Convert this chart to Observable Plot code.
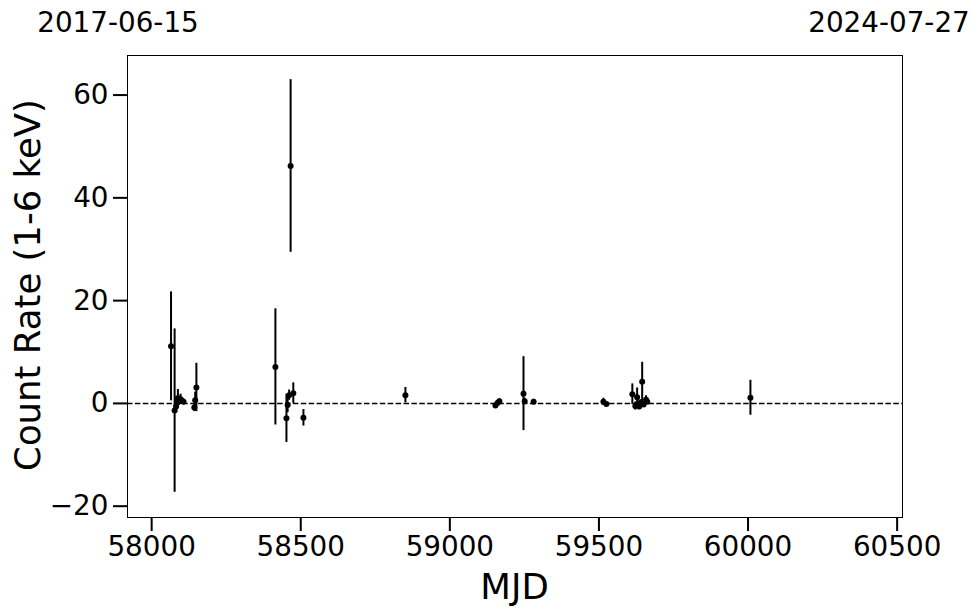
<!DOCTYPE html>
<html><head><meta charset="utf-8">
<script src="https://cdn.jsdelivr.net/npm/d3@7"></script>
<script src="https://cdn.jsdelivr.net/npm/@observablehq/plot@0.6"></script>
<style>html,body{margin:0;padding:0;background:#fff;}</style>
</head><body><div id="chart"></div>
<script>
const mjd  = [58065,58077,58082,58088,58092,58097,58102,58107,58143,58146,58150,
              58415,58452,58456,58461,58466,58475,58509,58851,
              59153,59160,59166,59247,59251,59281,59515,59525,
              59612,59622,59628,59635,59640,59645,59650,59658,59662,60008];
const rate = [11.1,-1.4,-0.6,1.0,0.4,0.8,0.5,0.3,-0.8,0.6,3.1,
              7.1,-2.9,-0.3,1.6,46.2,2.0,-2.8,1.6,
              -0.4,0.1,0.4,1.9,0.4,0.3,0.3,-0.1,
              1.8,-0.5,1.2,-0.6,0.2,4.2,-0.2,0.7,0.3,1.1];
const err  = [10.6,15.9,1.2,1.7,0.8,1.0,0.6,0.4,0.8,1.6,4.7,
              11.3,4.7,1.5,1.0,16.8,2.0,1.6,1.5,
              0.5,0.5,0.5,7.2,0.6,0.5,0.7,0.3,
              2.0,0.8,1.8,0.6,0.5,3.8,0.6,0.8,0.5,3.4];
const xTicks = [58000,58500,59000,59500,60000,60500];
const yTicks = [-20,0,20,40,60];
const xDomain = [57919,60518];
const yDomain = [-22.2,67.7];
const xLabel = "MJD";
const yLabel = "Count Rate (1-6 keV)";
const dateLeft = "2017-06-15";
const dateRight = "2024-07-27";

const data = mjd.map((m,i)=>({mjd:m, rate:rate[i], err:err[i]}));

const chart = Plot.plot({
  width: 980, height: 613,
  marginLeft: 127, marginRight: 78, marginTop: 55, marginBottom: 96,
  style: {fontFamily: "DejaVu Sans", fontSize: "27.8px", color: "black", background: "white"},
  x: {domain: xDomain},
  y: {domain: yDomain},
  marks: [
    Plot.ruleY([0], {stroke: "black", strokeWidth: 1.5, strokeDasharray: "5.5,2.4"}),
    Plot.ruleX(data, {x: "mjd", y1: d => d.rate - d.err, y2: d => d.rate + d.err, stroke: "black", strokeWidth: 2}),
    Plot.dot(data, {x: "mjd", y: "rate", r: 3, fill: "black", stroke: null}),
    Plot.frame({stroke: "black", strokeWidth: 1}),
    Plot.axisX({ticks: xTicks, tickSize: 14, tickPadding: 5, strokeWidth: 2, label: null, tickFormat: d => String(d)}),
    Plot.axisY({ticks: yTicks, tickSize: 14, tickPadding: 5, strokeWidth: 2, label: null})
  ]
});
document.getElementById("chart").appendChild(chart);

const svg = d3.select(chart);
const g = svg.append("g").attr("font-family", "DejaVu Sans").attr("fill", "black");
g.append("text").attr("x", 514.5).attr("y", 599).attr("text-anchor", "middle")
  .attr("font-size", "35.5px").text(xLabel);
g.append("text").attr("transform", "translate(40,285) rotate(-90)").attr("text-anchor", "middle")
  .attr("font-size", "35.5px").text(yLabel);
g.append("text").attr("x", 118).attr("y", 32).attr("text-anchor", "middle")
  .attr("font-size", "27.8px").text(dateLeft);
g.append("text").attr("x", 889).attr("y", 32).attr("text-anchor", "middle")
  .attr("font-size", "27.8px").text(dateRight);
</script>
</body></html>
